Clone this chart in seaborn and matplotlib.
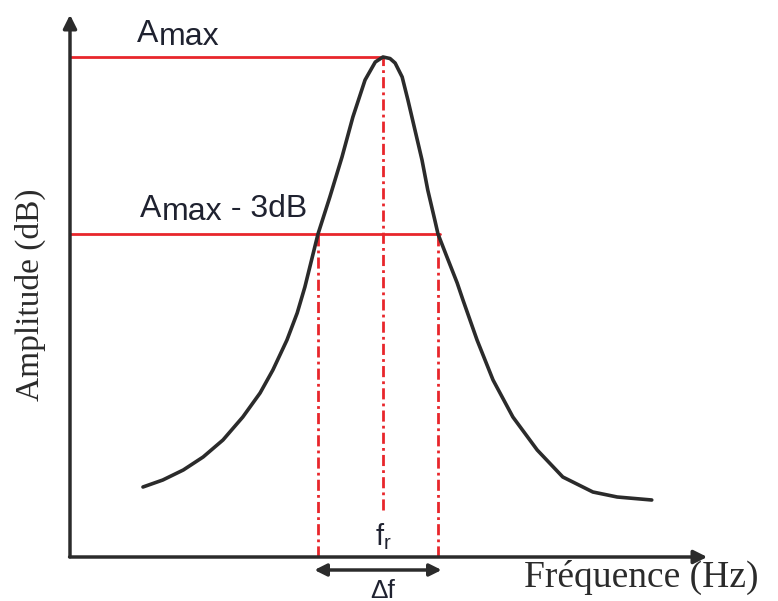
import numpy as np
import pandas as pd
import matplotlib
matplotlib.use("Agg")
import matplotlib.pyplot as plt
import seaborn as sns

# Resonance curve (arbitrary units)
frequency = [1.14, 1.45, 1.77, 2.08, 2.39, 2.70, 2.97, 3.17, 3.39, 3.55, 3.67, 3.875,
             4.06, 4.25, 4.42, 4.61, 4.77, 4.89, 5.00, 5.08, 5.19, 5.28, 5.39, 5.50,
             5.59, 5.70, 5.75, 5.89, 6.05, 6.14, 6.36, 6.61, 6.92, 7.30, 7.70, 8.17,
             8.55, 9.09]
amplitude = [1.40, 1.54, 1.74, 2.00, 2.34, 2.80, 3.28, 3.74, 4.34, 4.88, 5.40, 6.46,
             7.20, 8.00, 8.80, 9.54, 9.90, 10.0, 9.97, 9.88, 9.60, 9.14, 8.54, 7.94,
             7.34, 6.74, 6.46, 6.00, 5.48, 5.14, 4.34, 3.54, 2.80, 2.14, 1.60, 1.30,
             1.20, 1.14]

# Marked levels and frequencies
a_max = 10.0
a_3db = 6.46
f_r = 4.89
f_low = 3.875
f_high = 5.75

df = pd.DataFrame({"freq": frequency, "amp": amplitude})

sns.set_theme(style="white")
plt.rcParams['font.family'] = ['Liberation Sans', 'DejaVu Sans']

fig = plt.figure(figsize=(7.78, 6.01), dpi=100)
ax = fig.add_axes([70 / 778, 44 / 601, 708 / 778, 557 / 601])
ax.set_xlim(0, 708 / 64)
ax.set_ylim(0, 557 / 50)
ax.axis('off')

red = '#e8262b'
dark = '#2b2b2b'

# Horizontal reference levels
ax.plot([0, f_r], [a_max, a_max], color=red, lw=2)
ax.plot([0, f_high + 0.03], [a_3db, a_3db], color=red, lw=2)

# Dash-dot verticals
dd = (0, (4, 1.5, 1, 1.5))
ax.plot([f_low, f_low], [0, a_3db], color=red, lw=2, ls=dd)
ax.plot([f_high, f_high], [0, a_3db], color=red, lw=2, ls=dd)
ax.plot([f_r, f_r], [0.94, a_max], color=red, lw=2, ls=dd)

# Curve
sns.lineplot(data=df, x="freq", y="amp", sort=False, color=dark, linewidth=2.6, ax=ax)
ax.lines[-1].set_solid_joinstyle('round')

# Axes with arrows
ax.annotate("", xy=(0, 10.9), xytext=(0, -0.05),
            arrowprops=dict(arrowstyle='-|>', mutation_scale=20, lw=2.5, color=dark))
ax.annotate("", xy=(10.0, 0), xytext=(-0.05, 0),
            arrowprops=dict(arrowstyle='-|>', mutation_scale=20, lw=2.5, color=dark))

# Delta f double arrow
ax.annotate("", xy=(f_high + 0.1, -0.26), xytext=(f_low - 0.1, -0.26),
            arrowprops=dict(arrowstyle='<|-|>', mutation_scale=18, lw=2.5, color=dark),
            annotation_clip=False)

txt = '#1f2230'
fs = 23


def a_label(x, y, tail=""):
    # "A" then a slightly lowered "max", then the rest back on the baseline
    t_a = ax.text(x, y, "A", fontsize=fs, color=txt, ha='left', va='baseline')
    t_m = ax.annotate("max", xy=(1, 0), xycoords=t_a, xytext=(0.5, -2.5),
                      textcoords='offset points', fontsize=fs, color=txt,
                      ha='left', va='bottom')
    if tail:
        ax.annotate(tail, xy=(1, 0), xycoords=t_m, xytext=(0, 2.5),
                    textcoords='offset points', fontsize=fs, color=txt,
                    ha='left', va='bottom')


a_label(1.05, 10.3)
a_label(1.09, 6.80, " - 3dB")

ax.text(f_r, 0.4, r"$\mathregular{f_r}$", fontsize=21, color=txt, ha='center', va='center')
ax.text(f_r, -0.67, "Δf", fontsize=19, color=txt, ha='center', va='center',
        clip_on=False)

# Axis titles
fig.text(524 / 778, 1 - 577 / 601, "Fréquence (Hz)", fontsize=27, color=dark,
         family='Liberation Serif', ha='left', va='center')
fig.text(30 / 778, 1 - 295 / 601, "Amplitude (dB)", fontsize=24, color=dark,
         family='Liberation Serif', ha='center', va='center', rotation=90)

fig.savefig("out.png", dpi=100)
